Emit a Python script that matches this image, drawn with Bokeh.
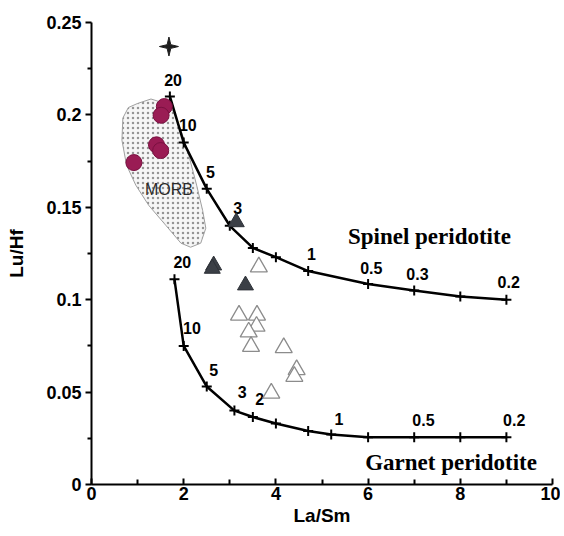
from bokeh.plotting import figure
from bokeh.models import Range1d, FixedTicker, NumeralTickFormatter
from bokeh.core.properties import value
from bokeh.embed import file_html
from bokeh.resources import INLINE
import math

# ---------------- data ----------------
spinel_x = [1.7, 2.0, 2.5, 3.0, 3.5, 4.0, 4.7, 6.0, 7.0, 8.0, 9.0]
spinel_y = [0.210, 0.185, 0.160, 0.140, 0.128, 0.123, 0.1155, 0.1085, 0.105, 0.1017, 0.100]
spinel_lab = ["20", "10", "5", "3", "1", "0.5", "0.3", "0.2"]
spinel_lab_x = [1.77, 2.09, 2.58, 3.17, 4.77, 6.07, 7.07, 9.05]
spinel_lab_y = [0.219, 0.1945, 0.169, 0.1498, 0.1245, 0.1173, 0.114, 0.1095]

garnet_x = [1.8, 2.0, 2.5, 3.1, 3.5, 4.0, 4.7, 5.2, 6.0, 7.0, 8.0, 9.0]
garnet_y = [0.111, 0.075, 0.053, 0.040, 0.0365, 0.033, 0.029, 0.027, 0.0256, 0.0256, 0.0256, 0.0256]
garnet_lab = ["20", "10", "5", "3", "2", "1", "0.5", "0.2"]
garnet_lab_x = [1.97, 2.18, 2.65, 3.27, 3.65, 5.37, 7.20, 9.17]
garnet_lab_y = [0.1204, 0.0848, 0.062, 0.050, 0.0464, 0.0356, 0.0347, 0.0347]

morb_x = [1.00, 1.29, 1.55, 1.76, 1.94, 2.11, 2.28, 2.41, 2.48, 2.37, 2.15, 1.94,
          1.61, 1.24, 0.96, 0.76, 0.66, 0.68, 0.80]
morb_y = [0.2062, 0.2086, 0.2066, 0.2026, 0.1918, 0.1782, 0.1620, 0.1484, 0.1387,
          0.1306, 0.1284, 0.1306, 0.1403, 0.1511, 0.1620, 0.1728, 0.1863, 0.1983, 0.2040]

circle_x = [1.58, 1.51, 1.41, 1.50, 0.92]
circle_y = [0.2045, 0.1998, 0.1838, 0.1807, 0.1742]

filled_tri_x = [3.14, 2.65, 2.62, 3.34]
filled_tri_y = [0.142, 0.1186, 0.1168, 0.1078]

open_tri_x = [3.63, 3.20, 3.59, 3.58, 3.41, 3.46, 4.17, 4.45, 4.40, 3.90]
open_tri_y = [0.1177, 0.0916, 0.0916, 0.0856, 0.0825, 0.0747, 0.074, 0.0621, 0.0585, 0.0494]

star_x = 1.68
star_y = 0.237

x_ticks = [0, 2, 4, 6, 8, 10]
y_ticks = [0, 0.05, 0.1, 0.15, 0.2, 0.25]

# ---------------- figure ----------------
p = figure(width=560, height=530, x_range=Range1d(0, 10), y_range=Range1d(0, 0.25),
           output_backend="svg", toolbar_location=None,
           min_border_left=91, min_border_right=8, min_border_top=22, min_border_bottom=46)
p.outline_line_color = None
p.xgrid.visible = False
p.ygrid.visible = False

FONT = value("Liberation Sans")

for ax in (p.xaxis[0], p.yaxis[0]):
    ax.axis_line_width = 2
    ax.axis_line_color = "black"
    ax.major_tick_line_width = 2
    ax.minor_tick_line_width = 2
    ax.major_label_text_font = "Liberation Sans"
    ax.major_label_text_font_style = "bold"
    ax.major_label_text_font_size = "18px"
    ax.major_label_text_color = "black"
    ax.axis_label_text_font = "Liberation Sans"
    ax.axis_label_text_font_style = "bold"
    ax.axis_label_text_font_size = "19px"
    ax.axis_label_text_color = "black"

p.xaxis.ticker = FixedTicker(ticks=x_ticks, minor_ticks=[1, 3, 5, 7, 9])
p.xaxis.major_tick_in = 6
p.xaxis.major_tick_out = 0
p.xaxis.minor_tick_in = 5
p.xaxis.minor_tick_out = 0
p.xaxis.major_label_standoff = 2
p.xaxis.axis_label = "La/Sm"
p.xaxis.axis_label_standoff = 2

p.yaxis.ticker = FixedTicker(ticks=y_ticks, minor_ticks=[0.025, 0.075, 0.125, 0.175, 0.225])
p.yaxis.formatter = NumeralTickFormatter(format="0.[00]")
p.yaxis.major_tick_in = 0
p.yaxis.major_tick_out = 6
p.yaxis.minor_tick_in = 0
p.yaxis.minor_tick_out = 4
p.yaxis.major_label_standoff = 4
p.yaxis.axis_label = "Lu/Hf"
p.yaxis.axis_label_standoff = 16

# MORB field
p.patch(morb_x, morb_y, fill_color="#f6f6f6", line_color="#a0a0a0", line_width=1,
        hatch_pattern=".", hatch_color="#959595", hatch_scale=5, hatch_weight=1)
p.text([1.68], [0.1596], text=["MORB"], text_font=FONT, text_font_size="16px",
       text_color="#2a2a2a", text_align="center", text_baseline="middle")

# melting curves
p.line(spinel_x, spinel_y, line_color="black", line_width=2.5)
p.scatter(spinel_x, spinel_y, marker="cross", size=10, line_color="black", line_width=2)
p.line(garnet_x, garnet_y, line_color="black", line_width=2.5)
p.scatter(garnet_x, garnet_y, marker="cross", size=10, line_color="black", line_width=2)

p.text(spinel_lab_x, spinel_lab_y, text=spinel_lab, text_font=FONT, text_font_style="bold",
       text_font_size="16px", text_color="black", text_align="center", text_baseline="middle")
p.text(garnet_lab_x, garnet_lab_y, text=garnet_lab, text_font=FONT, text_font_style="bold",
       text_font_size="16px", text_color="black", text_align="center", text_baseline="middle")

p.text([7.33], [0.1343], text=["Spinel peridotite"], text_font=value("Liberation Serif"),
       text_font_style="bold", text_font_size="23px", text_color="black",
       text_align="center", text_baseline="middle")
p.text([7.80], [0.0119], text=["Garnet peridotite"], text_font=value("Liberation Serif"),
       text_font_style="bold", text_font_size="23px", text_color="black",
       text_align="center", text_baseline="middle")

# samples
p.scatter(circle_x, circle_y, marker="circle", size=16, fill_color="#9a1c54",
          line_color="#7a1040", line_width=1)
p.scatter(open_tri_x, open_tri_y, marker="triangle", size=17, fill_color="white",
          line_color="#8c8c8c", line_width=1.3)
p.scatter(filled_tri_x, filled_tri_y, marker="triangle", size=16, fill_color="#3b3f46",
          line_color="#2e3238", line_width=1)

# four-pointed star built around its centre (pixel radii converted to data units)
px_x = 46.1
px_y = 1848.0
sx, sy = [], []
for k in range(8):
    ang = math.pi / 2 + k * math.pi / 4
    r = 9.5 if k % 2 == 0 else 2.6
    sx.append(star_x + r * math.cos(ang) / px_x)
    sy.append(star_y + r * math.sin(ang) / px_y)
p.patch(sx, sy, fill_color="#1e1e1e", line_color="#1e1e1e", line_width=1)

open("out.html", "w").write(file_html(p, INLINE))
